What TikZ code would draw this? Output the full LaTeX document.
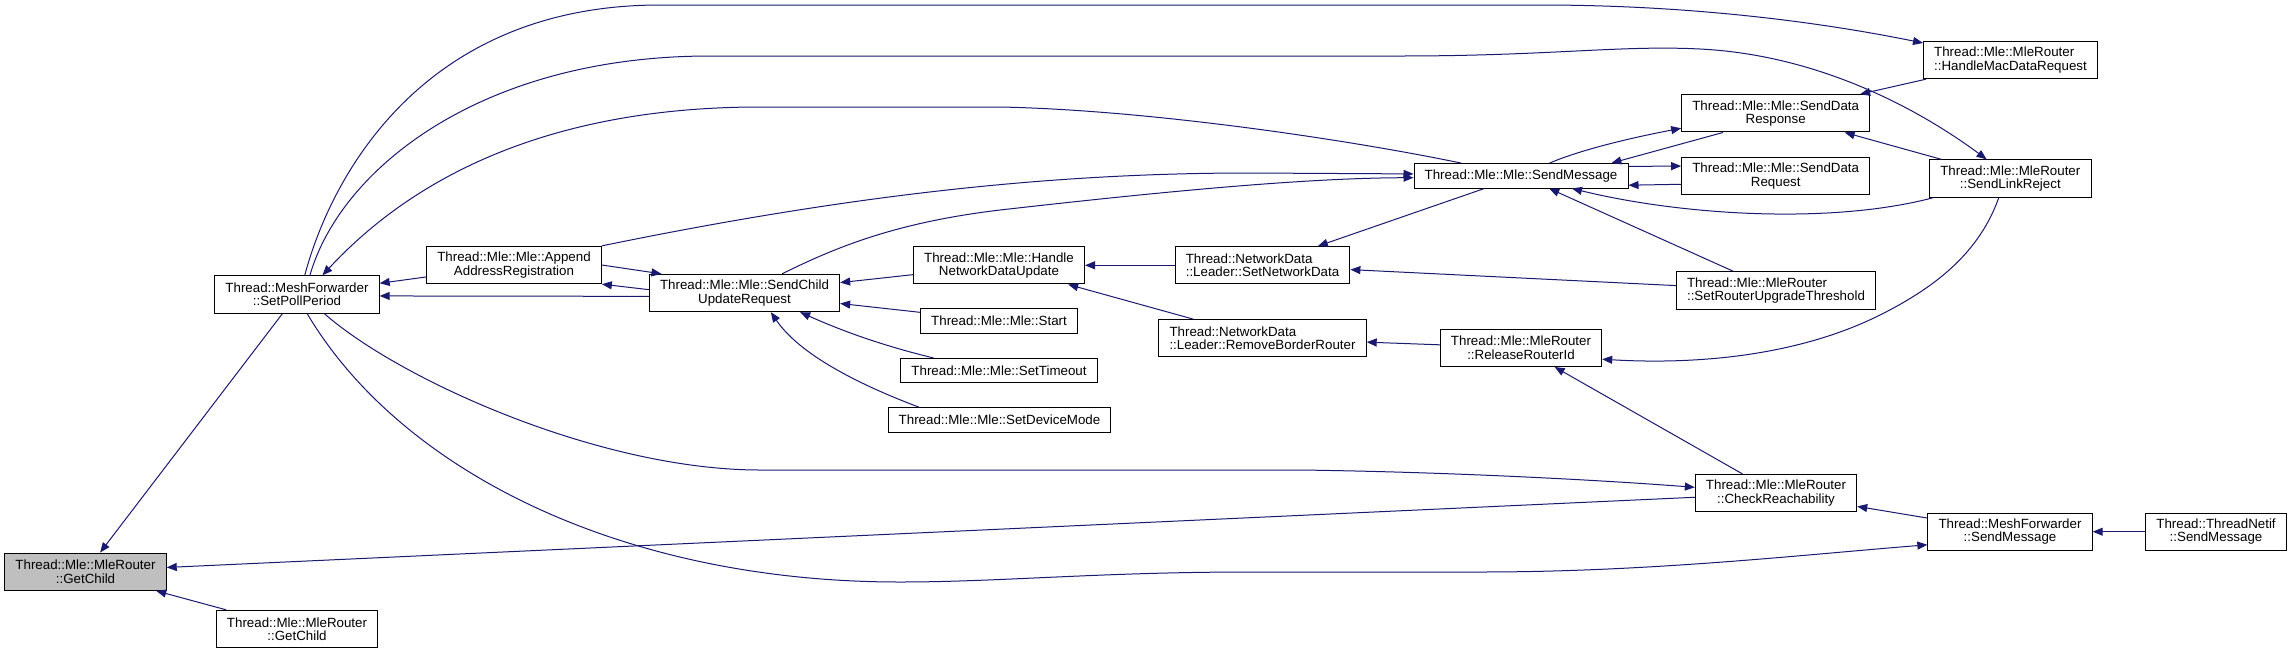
\documentclass[tikz,border=0pt]{standalone}
\usepackage{fontspec}
\setmainfont{Liberation Sans}
\usetikzlibrary{arrows.meta}
\definecolor{edgeblue}{RGB}{25,25,112}
\definecolor{nodegray}{RGB}{191,191,191}

\begin{document}
\begin{tikzpicture}[x=0.75pt,y=-0.75pt,
  func/.style={rectangle,draw=black,fill=white,line width=0.75pt,
    font=\fontsize{10}{10}\selectfont,align=center,inner xsep=8pt,inner ysep=2pt,minimum height=28pt},
  funcone/.style={func,minimum height=18.3pt},
  call/.style={draw=edgeblue,line width=0.75pt,-{Triangle[length=7.5pt,width=6pt]}}]
\fill[white] (0,0) rectangle (2292,654);

% functions
\node[func,fill=nodegray] (getchild) at (85.5,571.7) {Thread::Mle::MleRouter\\::GetChild};
\node[func] (getchildb) at (297,629) {Thread::Mle::MleRouter\\::GetChild};
\node[func] (setpoll) at (297,294.5) {Thread::MeshForwarder\\::SetPollPeriod};
\node[func] (appendreg) at (514,265) {Thread::Mle::Mle::Append\\AddressRegistration};
\node[func] (childupd) at (744.5,293) {Thread::Mle::Mle::SendChild\\UpdateRequest};
\node[func] (handlend) at (999,265.3) {Thread::Mle::Mle::Handle\\NetworkDataUpdate};
\node[funcone] (mlestart) at (999,321) {Thread::Mle::Mle::Start};
\node[funcone] (settimeout) at (999,370.7) {Thread::Mle::Mle::SetTimeout};
\node[funcone] (setdevmode) at (999.5,420) {Thread::Mle::Mle::SetDeviceMode};
\node[func,align=left] (setnetdata) at (1262.5,265.3) {Thread::NetworkData\\::Leader::SetNetworkData};
\node[func,align=left] (rmborder) at (1262.5,338.3) {Thread::NetworkData\\::Leader::RemoveBorderRouter};
\node[func] (releaseid) at (1521,347.8) {Thread::Mle::MleRouter\\::ReleaseRouterId};
\node[funcone] (sendmsg) at (1521,175.8) {Thread::Mle::Mle::SendMessage};
\node[func] (dataresp) at (1775.7,113.3) {Thread::Mle::Mle::SendData\\Response};
\node[func] (datareq) at (1775.7,176) {Thread::Mle::Mle::SendData\\Request};
\node[func,align=left] (upgthresh) at (1776,290.5) {Thread::Mle::MleRouter\\::SetRouterUpgradeThreshold};
\node[func,align=left] (macdatareq) at (2010.5,60) {Thread::Mle::MleRouter\\::HandleMacDataRequest};
\node[func] (linkreject) at (2010.3,178.5) {Thread::Mle::MleRouter\\::SendLinkReject};
\node[func] (checkreach) at (1776,493) {Thread::Mle::MleRouter\\::CheckReachability};
\node[func] (meshsend) at (2010,531.7) {Thread::MeshForwarder\\::SendMessage};
\node[func] (netifsend) at (2216,531.7) {Thread::ThreadNetif\\::SendMessage};

% calls
\draw[call] (setpoll) -- (getchild);
\draw[call] (getchildb) -- (getchild);
\draw[call] (checkreach.183) -- (getchild.3);
\draw[call] (appendreg) -- (setpoll);
\draw[call] (childupd.182) -- (setpoll.359);
\draw[call] (appendreg.east) -- (childupd.167);
\draw[call] (childupd.178) -- (appendreg.south east);
\draw[call] (sendmsg.168) .. controls (1350,140) and (1150,110) .. (1000,107) -- (760,107)
  .. controls (560,107) and (420,170) .. (setpoll.37);
\draw[call] (setpoll.68) .. controls (330,180) and (420,5) .. (660,5) -- (1540,5)
  .. controls (1690,5) and (1820,22) .. (macdatareq.169);
\draw[call] (setpoll.56) .. controls (340,170) and (480,56) .. (710,56) -- (1400,56)
  .. controls (1550,56) and (1620,45) .. (1700,49) .. controls (1820,55) and (1920,110) .. (linkreject.141);
\draw[call] (setpoll.325) .. controls (400,380) and (600,470) .. (760,470) -- (1300,470)
  .. controls (1450,472) and (1600,480) .. (checkreach.176);
\draw[call] (setpoll.298) .. controls (400,470) and (620,582) .. (900,582)
  .. controls (1000,582) and (1100,572) .. (1250,572) -- (1480,572)
  .. controls (1650,572) and (1800,555) .. (meshsend.189);
\draw[call] (appendreg.north east) .. controls (850,195) and (1050,173) .. (1250,173) -- (sendmsg.179);
\draw[call] (childupd.27) .. controls (840,245) and (900,222) .. (1000,210)
  .. controls (1150,193) and (1300,178) .. (sendmsg.181);
\draw[call] (handlend) -- (childupd);
\draw[call] (mlestart) -- (childupd);
\draw[call] (settimeout.169) .. controls (880,345) and (840,330) .. (childupd.341);
\draw[call] (setdevmode.171) .. controls (860,385) and (800,355) .. (childupd.324);
\draw[call] (setnetdata) -- (handlend);
\draw[call] (rmborder) -- (handlend);
\draw[call] (releaseid) -- (rmborder);
\draw[call] (sendmsg) -- (setnetdata);
\draw[call] (upgthresh) -- (setnetdata);
\draw[call] (upgthresh) -- (sendmsg);
\draw[call] (sendmsg.24) .. controls (1580,150) and (1630,138) .. (dataresp.189);
\draw[call] (dataresp.200) -- (sendmsg.8);
\draw[call] (sendmsg.5) -- (datareq.174);
\draw[call] (datareq.185) -- (sendmsg.355);
\draw[call] (linkreject.194) .. controls (1830,225) and (1680,215) .. (sendmsg.346);
\draw[call] (linkreject) -- (dataresp);
\draw[call] (macdatareq) -- (dataresp);
\draw[call] (linkreject.239) .. controls (1980,250) and (1940,285) .. (1880,315)
  .. controls (1800,355) and (1700,365) .. (releaseid.352);
\draw[call] (checkreach) -- (releaseid);
\draw[call] (meshsend) -- (checkreach);
\draw[call] (netifsend) -- (meshsend);
\end{tikzpicture}
\end{document}
